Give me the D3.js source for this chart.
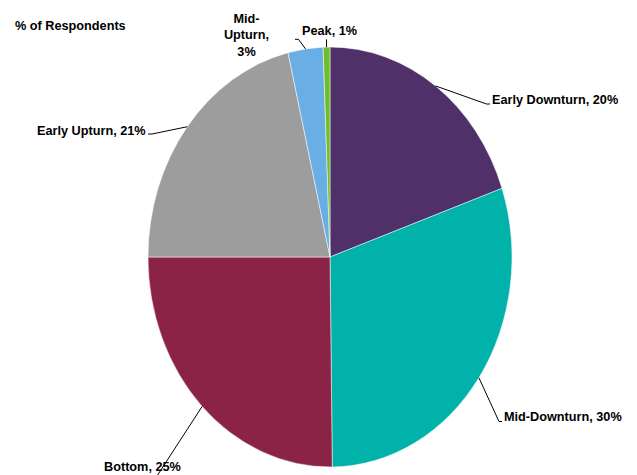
<!DOCTYPE html>
<html>
<head>
<meta charset="utf-8">
<script src="https://cdn.jsdelivr.net/npm/d3@7"></script>
<style>
  html, body { margin: 0; padding: 0; background: #fff; }
  svg { display: block; }
  text { font-family: "Liberation Sans", Arial, sans-serif; font-weight: bold; fill: #000; }
</style>
</head>
<body>
<svg id="chart" width="637" height="475"></svg>
<script>
// Data
const categories = ["Early Downturn", "Mid-Downturn", "Bottom", "Early Upturn", "Mid-Upturn", "Peak"];
// slice sizes (labels show the rounded figures)
const values = [19.7, 30.1, 25.2, 21.3, 3.1, 0.6];
const valueLabels = ["20%", "30%", "25%", "21%", "3%", "1%"];
const colors = ["#4f3068", "#00b2aa", "#8b2346", "#9d9d9d", "#6aaee6", "#6cbe2c"];
const title = "% of Respondents";

// Layout
const W = 637, H = 475;
const cx = 330, cy = 257, rx = 182, ry = 210;
const fontSize = 12.7;
// label layout: line breaks, anchor, x, baseline y, and leader end points
const labelLayout = [
  { breakAfterName: false, anchor: "start", x: 492, y: 104, path: [[486.5, 104], [490, 104]] },
  { breakAfterName: false, anchor: "start", x: 504, y: 421, path: [[499, 421.5], [502, 421.5]] },
  { breakAfterName: false, anchor: "start", x: 104, y: 471, path: [[157, 476]] },
  { breakAfterName: false, anchor: "start", x: 37, y: 135, path: [[152, 134], [148, 134]] },
  { breakAfterName: true, anchor: "middle", x: 246.5, y: 22.5, dy: 16.8, path: [[298.5, 39.3], [295, 39.3]] },
  { breakAfterName: false, anchor: "start", x: 302, y: 35, path: [[326.5, 39.3]] }
];

const svg = d3.select("#chart");

const data = categories.map((c, i) => ({ name: c, value: values[i], label: valueLabels[i], color: colors[i] }));
const pie = d3.pie().sort(null).value(d => d.value).startAngle(0).endAngle(2 * Math.PI);
const arcs = pie(data);
const arc = d3.arc().innerRadius(0).outerRadius(rx);

const g = svg.append("g").attr("transform", `translate(${cx},${cy}) scale(1,${ry / rx})`);
g.selectAll("path.slice")
  .data(arcs)
  .join("path")
  .attr("class", "slice")
  .attr("d", arc)
  .attr("fill", d => d.data.color)
  .attr("stroke", "#ffffff")
  .attr("stroke-width", 0.5)
  .attr("vector-effect", "non-scaling-stroke");

// Leader lines and labels
const line = d3.line();
arcs.forEach((a, i) => {
  const L = labelLayout[i];
  const mid = (a.startAngle + a.endAngle) / 2;
  const p0 = [cx + rx * Math.sin(mid), cy - ry * Math.cos(mid)];
  svg.append("path")
    .attr("d", line([p0].concat(L.path)))
    .attr("fill", "none")
    .attr("stroke", "#000")
    .attr("stroke-width", 1);
  let lines;
  if (L.breakAfterName) {
    const parts = a.data.name.split("-");
    lines = [parts[0] + "-", parts[1] + ",", a.data.label];
  } else {
    lines = [a.data.name + ", " + a.data.label];
  }
  const t = svg.append("text")
    .attr("x", L.x)
    .attr("y", L.y)
    .attr("text-anchor", L.anchor)
    .attr("font-size", fontSize);
  lines.forEach((ln, j) => {
    t.append("tspan").attr("x", L.x).attr("y", L.y + j * (L.dy || 0)).text(ln);
  });
});

// Title
svg.append("text")
  .attr("x", 15)
  .attr("y", 29.5)
  .attr("font-size", fontSize)
  .text(title);
</script>
</body>
</html>
